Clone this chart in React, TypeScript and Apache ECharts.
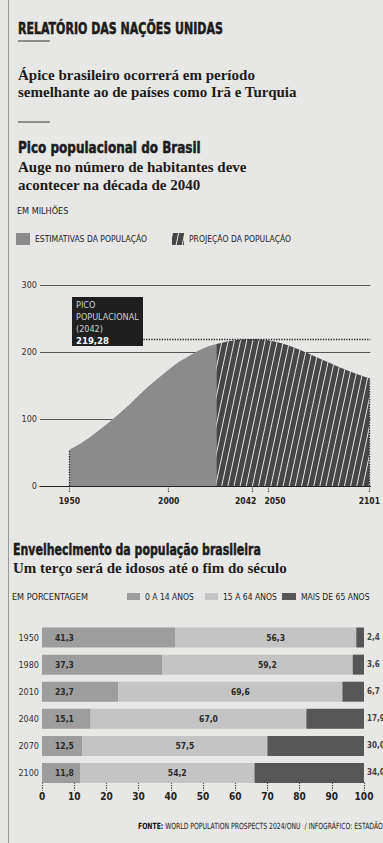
import React, { useEffect, useRef } from "react";
import * as echarts from "echarts";

// ---- Data ----
const estYears = [1950, 1955, 1960, 1965, 1970, 1975, 1980, 1985, 1990, 1995, 2000, 2005, 2010, 2015, 2020, 2024];
const estValues = [54.0, 62.5, 72.2, 83.4, 95.3, 107.8, 120.8, 135.3, 149.1, 161.5, 174.0, 184.9, 193.7, 202.1, 208.7, 212.0];
const projYears = [2024, 2030, 2035, 2040, 2042, 2045, 2050, 2055, 2060, 2065, 2070, 2075, 2080, 2085, 2090, 2095, 2100, 2101];
const projValues = [212.0, 216.2, 218.3, 219.2, 219.28, 219.0, 217.4, 214.5, 210.0, 204.5, 198.0, 191.5, 185.0, 178.5, 172.5, 166.8, 161.5, 160.5];
const popXLabels = [1950, 2000, 2042, 2050, 2101];
const peakYear = 2042;
const peakValue = 219.28;

const ageYears = ["1950", "1980", "2010", "2040", "2070", "2100"];
const age0to14 = [41.3, 37.3, 23.7, 15.1, 12.5, 11.8];
const age15to64 = [56.3, 59.2, 69.6, 67.0, 57.5, 54.2];
const age65plus = [2.4, 3.6, 6.7, 17.9, 30.0, 34.0];

const COND = "'DejaVu Sans Condensed', 'Liberation Sans Narrow', sans-serif";
const SERIF = "'Liberation Serif', 'DejaVu Serif', serif";
const BG = "#e7e7e5";

const fmt = (v: number, d = 1) => v.toFixed(d).replace(".", ",");

function txt(text: string, x: number, y: number, font: string, fill = "#1c1c1c", scaleX = 1, heavy = false) {
  return {
    type: "text",
    z: 100,
    x,
    y,
    scaleX,
    style: {
      text,
      x: 0,
      y: 0,
      font,
      fill,
      stroke: heavy ? fill : undefined,
      lineWidth: heavy ? 0.5 : 0,
      align: "left",
      verticalAlign: "middle",
      textAlign: "left",
      textVerticalAlign: "middle",
    },
  };
}

const legendBase = {
  icon: "rect",
  padding: 0,
  selectedMode: false,
  textStyle: { fontFamily: COND, fontSize: 8.5, color: "#222" },
};

export default function App() {
  const ref = useRef<HTMLDivElement>(null);
  useEffect(() => {
    if (!ref.current) return;
    const chart = echarts.init(ref.current, undefined, { renderer: "svg" });
    const estData = estYears.map((y, i) => [y, estValues[i]]);
    const projData = projYears.map((y, i) => [y, projValues[i]]);
    const estFirst = estValues[0];
    const projLast = projValues[projValues.length - 1];

    const option: any = {
      animation: false,
      backgroundColor: BG,
      legend: [
        { ...legendBase, data: ["ESTIMATIVAS DA POPULAÇÃO"], left: 16, top: 233, itemWidth: 14, itemHeight: 12 },
        { ...legendBase, data: ["PROJEÇÃO DA POPULAÇÃO"], left: 172, top: 233, itemWidth: 12, itemHeight: 12 },
        { ...legendBase, data: ["0 A 14 ANOS"], left: 127, top: 592, itemWidth: 13, itemHeight: 7 },
        { ...legendBase, data: ["15 A 64 ANOS"], left: 205, top: 592, itemWidth: 13, itemHeight: 7 },
        { ...legendBase, data: ["MAIS DE 65 ANOS"], left: 282, top: 592, itemWidth: 14, itemHeight: 7 },
      ],
      grid: [
        { left: 40, right: 6, top: 285, bottom: 843 - 486 },
        { left: 42, right: 19, top: 624, bottom: 56.5 },
      ],
      xAxis: [
        {
          gridIndex: 0,
          type: "value",
          min: 1935.2,
          max: 2101.5,
          axisLine: { show: true, lineStyle: { color: "#222", width: 1.2 } },
          axisTick: {
            show: true,
            customValues: popXLabels,
            length: 6,
            lineStyle: { color: "#333", type: "dotted", width: 1.2 },
          },
          axisLabel: {
            customValues: popXLabels,
            fontFamily: COND,
            fontWeight: "bold",
            fontSize: 8.5,
            color: "#222",
            margin: 10,
            formatter: (v: number) =>
              v === 2042 ? `{l|${v}}` : v === 2050 ? `{r|${v}}` : `{n|${v}}`,
            rich: {
              l: { fontFamily: COND, fontWeight: "bold", fontSize: 8.5, color: "#222", padding: [0, 13, 0, 0] },
              r: { fontFamily: COND, fontWeight: "bold", fontSize: 8.5, color: "#222", padding: [0, 0, 0, 14] },
              n: { fontFamily: COND, fontWeight: "bold", fontSize: 8.5, color: "#222" },
            },
          },
          splitLine: { show: false },
        },
        {
          gridIndex: 1,
          type: "value",
          min: 0,
          max: 100,
          interval: 10,
          offset: -4,
          axisLine: { show: false },
          axisTick: { show: true, length: 8, lineStyle: { color: "#333", type: "dotted", width: 1.2 } },
          axisLabel: {
            fontFamily: COND,
            fontWeight: "bold",
            fontSize: 10,
            color: "#222",
            margin: 9,
          },
          splitLine: { show: false },
        },
      ],
      yAxis: [
        {
          gridIndex: 0,
          type: "value",
          min: 0,
          max: 300,
          interval: 100,
          axisLine: { show: false },
          axisTick: { show: false },
          axisLabel: { fontFamily: COND, fontSize: 9, color: "#333", margin: 3 },
          splitLine: { show: true, lineStyle: { color: "#555", width: 1 } },
        },
        {
          gridIndex: 1,
          type: "category",
          data: ageYears,
          inverse: true,
          axisLine: { show: false },
          axisTick: { show: false },
          axisLabel: { fontFamily: COND, fontSize: 9, color: "#333", margin: 3 },
          splitLine: { show: false },
        },
      ],
      series: [
        {
          name: "ESTIMATIVAS DA POPULAÇÃO",
          type: "line",
          xAxisIndex: 0,
          yAxisIndex: 0,
          data: estData,
          showSymbol: false,
          symbol: "none",
          lineStyle: { width: 0 },
          itemStyle: { color: "#8b8b8b" },
          areaStyle: { color: "#8b8b8b", opacity: 1 },
          markLine: {
            silent: true,
            symbol: "none",
            label: { show: false },
            lineStyle: { color: "#222", type: "dotted", width: 1.3 },
            data: [[{ coord: [estYears[0], 0] }, { coord: [estYears[0], estFirst] }]],
          },
        },
        {
          name: "PROJEÇÃO DA POPULAÇÃO",
          type: "line",
          xAxisIndex: 0,
          yAxisIndex: 0,
          data: projData,
          showSymbol: false,
          symbol: "none",
          lineStyle: { width: 0 },
          itemStyle: {
            color: "#464646",
            decal: {
              symbol: "rect",
              symbolSize: 1,
              color: "rgba(255,255,255,0.85)",
              dashArrayX: [1, 0],
              dashArrayY: [1, 4.6],
              rotation: -1.36,
            },
          },
          areaStyle: { color: "#464646", opacity: 1 },
          markLine: {
            silent: true,
            symbol: "none",
            label: { show: false },
            lineStyle: { color: "#222", type: "dotted", width: 1.3 },
            data: [
              [{ coord: [1986, peakValue] }, { coord: [2101.5, peakValue] }],
              [{ coord: [projYears[projYears.length - 1], 0] }, { coord: [projYears[projYears.length - 1], projLast] }],
            ],
          },
        },
        {
          name: "0 A 14 ANOS",
          type: "bar",
          xAxisIndex: 1,
          yAxisIndex: 1,
          stack: "age",
          barWidth: 20,
          data: age0to14,
          itemStyle: { color: "#9d9d9d" },
          label: {
            show: true,
            position: "insideLeft",
            distance: 13,
            fontFamily: COND,
            fontWeight: "bold",
            fontSize: 8.5,
            color: "#2a2a2a",
            formatter: (p: any) => fmt(p.value),
          },
        },
        {
          name: "15 A 64 ANOS",
          type: "bar",
          xAxisIndex: 1,
          yAxisIndex: 1,
          stack: "age",
          barWidth: 20,
          data: age15to64,
          itemStyle: { color: "#c4c4c4" },
          label: {
            show: true,
            position: "inside",
            offset: [10, 0],
            fontFamily: COND,
            fontWeight: "bold",
            fontSize: 8.5,
            color: "#2a2a2a",
            formatter: (p: any) => fmt(p.value),
          },
        },
        {
          name: "MAIS DE 65 ANOS",
          type: "bar",
          xAxisIndex: 1,
          yAxisIndex: 1,
          stack: "age",
          barWidth: 20,
          data: age65plus,
          itemStyle: { color: "#575757" },
          label: {
            show: true,
            position: "right",
            distance: 3,
            fontFamily: COND,
            fontWeight: "bold",
            fontSize: 8,
            color: "#444",
            formatter: (p: any) => fmt(p.value),
          },
        },
      ],
      graphic: [
        { type: "line", z: 100, shape: { x1: 8.5, y1: 0, x2: 8.5, y2: 843 }, style: { stroke: "#9a9a9a", lineWidth: 1 } },
        txt("RELATÓRIO DAS NAÇÕES UNIDAS", 18, 28, `bold 15.5px ${COND}`, "#1c1c1c", 0.79, true),
        { type: "line", z: 100, shape: { x1: 18, y1: 41, x2: 50, y2: 41 }, style: { stroke: "#333", lineWidth: 1 } },
        txt("Ápice brasileiro ocorrerá em período", 18, 75, `bold 15px ${SERIF}`),
        txt("semelhante ao de países como Irã e Turquia", 18, 92, `bold 15px ${SERIF}`),
        { type: "line", z: 100, shape: { x1: 18, y1: 122, x2: 50, y2: 122 }, style: { stroke: "#333", lineWidth: 1 } },
        txt("Pico populacional do Brasil", 18, 147.5, `bold 16.5px ${COND}`, "#1c1c1c", 0.81, true),
        txt("Auge no número de habitantes deve", 18, 167, `bold 15px ${SERIF}`),
        txt("acontecer na década de 2040", 18, 185, `bold 15px ${SERIF}`),
        txt("EM MILHÕES", 17, 211, `9px ${COND}`, "#222"),
        { type: "rect", z: 100, shape: { x: 72, y: 297, width: 71, height: 49 }, style: { fill: "#1f1f1f" } },
        txt("PICO", 76, 305, `9px ${COND}`, "#cfcfcf"),
        txt("POPULACIONAL", 76, 317, `9px ${COND}`, "#cfcfcf"),
        txt(`(${peakYear})`, 76, 329, `9px ${COND}`, "#cfcfcf"),
        txt(fmt(peakValue, 2), 76, 340, `bold 9.5px ${COND}`, "#ffffff"),
        txt("Envelhecimento da população brasileira", 13, 549, `bold 16.5px ${COND}`, "#1c1c1c", 0.74, true),
        txt("Um terço será de idosos até o fim do século", 13, 568, `bold 15px ${SERIF}`),
        txt("EM PORCENTAGEM", 12, 597, `9px ${COND}`, "#222"),
        {
          type: "text",
          z: 100,
          x: 138,
          y: 826,
          scaleX: 0.8,
          style: {
            text: "{b|FONTE:} WORLD POPULATION PROSPECTS 2024/ONU  / INFOGRÁFICO: ESTADÃO",
            x: 0,
            y: 0,
            font: `8.5px ${COND}`,
            fill: "#222",
            align: "left",
            verticalAlign: "middle",
            textAlign: "left",
            textVerticalAlign: "middle",
            rich: { b: { font: `bold 8.5px ${COND}`, fill: "#111" } },
          },
        },
      ],
    };
    chart.setOption(option);
    return () => chart.dispose();
  }, []);
  return (
    <div
      ref={ref}
      style={{ position: "absolute", left: 0, top: 0, width: 383, height: 843, background: BG }}
    />
  );
}
